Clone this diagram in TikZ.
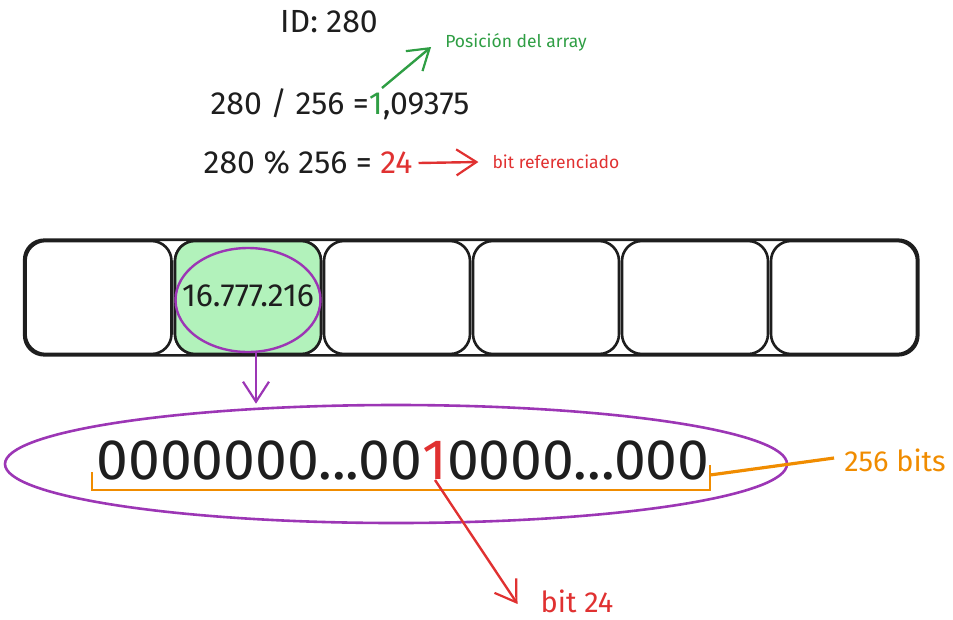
\documentclass[tikz,border=0pt]{standalone}
\usepackage{fontspec}
\setmainfont{Fira Sans}
\usetikzlibrary{arrows.meta,shapes.geometric}
\definecolor{ink}{HTML}{1E1E1E}
\definecolor{exgreen}{HTML}{2F9E44}
\definecolor{exred}{HTML}{E03131}
\definecolor{exorange}{HTML}{F08C00}
\definecolor{expurple}{HTML}{9C36B5}
\definecolor{cellgreen}{HTML}{B2F2BB}
\tikzset{
  cell/.style={draw=ink, line width=2.6pt, rounded corners=20pt,
    minimum width=146pt, minimum height=113pt, inner sep=0pt},
  txt/.style={inner sep=0pt, text=ink},
  big/.style={font=\fontsize{32}{36}\selectfont},
  small/.style={font=\fontsize{17.5}{20}\selectfont},
  mid/.style={font=\fontsize{29}{34}\selectfont},
  barb/.style={-{Straight Barb[length=20pt,width=26pt,line width=2.2pt]}},
}
\begin{document}
\begin{tikzpicture}[x=1pt,y=-1pt]
\useasboundingbox (0,0) rectangle (953,619);

% formulas
\node[txt, big] (id) at (329,22) {ID: 280};
\node[txt, big] (div) at (340,104) {280 / 256 =\textcolor{exgreen}{1},09375};
\node[txt, big] (mod) at (308,163) {280 \% 256 = \textcolor{exred}{24}};
\node[txt, small, text=exgreen] (pos) at (516,42) {Posición del array};
\node[txt, small, text=exred] (ref) at (556,162) {bit referenciado};
\coordinate (gstart) at (382,88);
\draw[barb, exgreen, line width=2.4pt] (gstart) -- ([xshift=-14pt,yshift=-5pt]pos.west);
\draw[barb, exred, line width=2.4pt] ([xshift=6pt]mod.east) -- ([xshift=-14pt]ref.west);

% array of cells
\foreach \i/\cx in {1/98.5, 2/248, 3/397, 4/546, 5/695, 6/844}
  \node[cell] (b\i) at (\cx,297.5) {};
\node[cell, fill=cellgreen] at (b2) {};
\draw[ink, line width=2.6pt, rounded corners=20pt] (b1.north west) rectangle (b6.south east);

% highlighted value
\node[ellipse, draw=expurple, line width=2.4pt, minimum width=145pt, minimum height=104pt,
      inner sep=0pt] (val) at (248,300) {};
\node[txt, font=\fontsize{32}{36}\selectfont] (valtxt) at (248,296) {16.777.216};

% bit vector
\node[ellipse, draw=expurple, line width=2.6pt, minimum width=782pt, minimum height=118pt,
      inner sep=0pt] (vec) at (396,464) {};
\node[txt, font=\fontsize{57}{62}\selectfont] (bits) at (403,460)
  {0000000...00\textcolor{exred}{1}0000...000};
\coordinate (vstart) at ([xshift=8pt]val.south);
\draw[barb, expurple, line width=2.4pt] (vstart) -- (vstart |- vec.north);

% 256-bit bracket
\coordinate (bl) at (92,490);
\coordinate (br) at (710,490);
\draw[exorange, line width=2.6pt] ([yshift=18pt]bl) -- (bl) -- (br) -- ([yshift=25pt]br);
\node[txt, mid, text=exorange] (n256) at (895,460) {256 bits};
\coordinate (bm) at (710,475);
\draw[exorange, line width=3.2pt] (bm) -- ([xshift=-10pt,yshift=2pt]n256.west);

% pointer to bit 24
\node[txt, mid, text=exred] (b24) at (577,601) {bit 24};
\coordinate (one) at (435,480);
\draw[barb, exred, line width=2.4pt] (one) -- ([xshift=-23pt,yshift=-3pt]b24.west);
\end{tikzpicture}
\end{document}
